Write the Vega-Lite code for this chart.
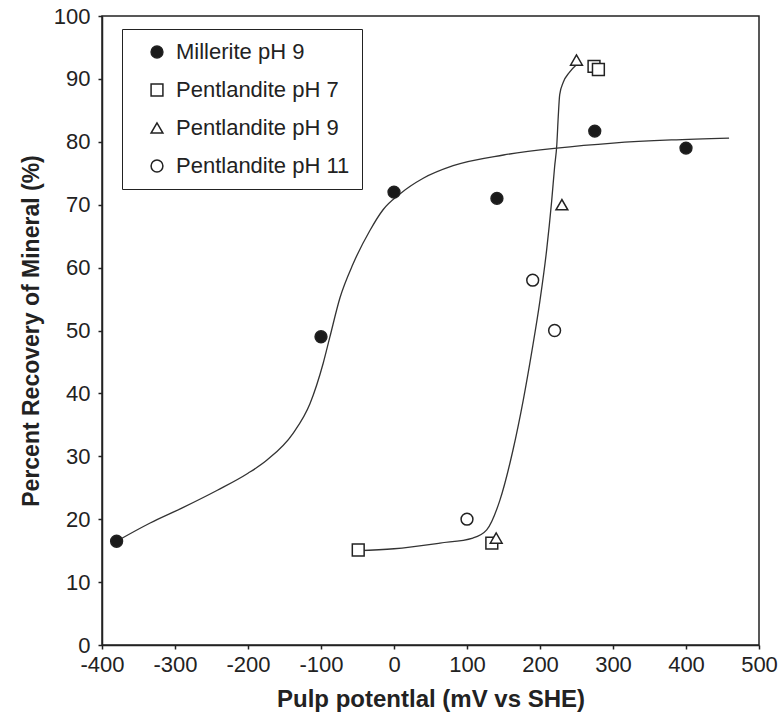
{
  "$schema": "https://vega.github.io/schema/vega-lite/v6.json",
  "width": 657,
  "height": 629,
  "autosize": "none",
  "padding": {"left": 102, "top": 16, "right": 23, "bottom": 76},
  "background": "white",
  "config": {
    "view": {"stroke": "#222", "strokeWidth": 1.5},
    "axis": {
      "grid": false,
      "labelFont": "Liberation Sans",
      "labelFontSize": 22,
      "labelColor": "#222",
      "labelExpr": "'' + datum.value",
      "labelFlush": false,
      "labelOverlap": false,
      "titleFont": "Liberation Sans",
      "titleFontSize": 23,
      "titleFontWeight": "bold",
      "titleColor": "#222",
      "tickColor": "#222",
      "domainColor": "#222",
      "domainWidth": 1.5,
      "tickWidth": 1.5,
      "tickSize": 4
    },
    "legend": {
      "labelFont": "Liberation Sans"
    }
  },
  "datasets": {
    "curves": [
      {"curve": "Millerite", "x": -380, "y": 16.5},
      {"curve": "Millerite", "x": -334, "y": 19.4},
      {"curve": "Millerite", "x": -290, "y": 21.8},
      {"curve": "Millerite", "x": -242, "y": 24.6},
      {"curve": "Millerite", "x": -200, "y": 27.3},
      {"curve": "Millerite", "x": -174, "y": 29.4},
      {"curve": "Millerite", "x": -138, "y": 33.7},
      {"curve": "Millerite", "x": -115, "y": 38.4},
      {"curve": "Millerite", "x": -97, "y": 44.8},
      {"curve": "Millerite", "x": -88, "y": 48.9},
      {"curve": "Millerite", "x": -74, "y": 55.2},
      {"curve": "Millerite", "x": -56, "y": 60.6},
      {"curve": "Millerite", "x": -33, "y": 65.9},
      {"curve": "Millerite", "x": -15, "y": 69.2},
      {"curve": "Millerite", "x": 8, "y": 71.7},
      {"curve": "Millerite", "x": 40, "y": 74.2},
      {"curve": "Millerite", "x": 81, "y": 76.2},
      {"curve": "Millerite", "x": 150, "y": 77.9},
      {"curve": "Millerite", "x": 223, "y": 79},
      {"curve": "Millerite", "x": 300, "y": 79.8},
      {"curve": "Millerite", "x": 380, "y": 80.3},
      {"curve": "Millerite", "x": 459, "y": 80.6},
      {"curve": "Pentlandite", "x": -50, "y": 15},
      {"curve": "Pentlandite", "x": 0, "y": 15.3},
      {"curve": "Pentlandite", "x": 63, "y": 16.2},
      {"curve": "Pentlandite", "x": 108, "y": 17},
      {"curve": "Pentlandite", "x": 127, "y": 18.3},
      {"curve": "Pentlandite", "x": 145, "y": 23},
      {"curve": "Pentlandite", "x": 163, "y": 31},
      {"curve": "Pentlandite", "x": 177, "y": 38.9},
      {"curve": "Pentlandite", "x": 189, "y": 46.8},
      {"curve": "Pentlandite", "x": 200, "y": 54.8},
      {"curve": "Pentlandite", "x": 209, "y": 62.7},
      {"curve": "Pentlandite", "x": 216, "y": 70.6},
      {"curve": "Pentlandite", "x": 220, "y": 76},
      {"curve": "Pentlandite", "x": 223, "y": 79.5},
      {"curve": "Pentlandite", "x": 225, "y": 84},
      {"curve": "Pentlandite", "x": 227, "y": 87.5},
      {"curve": "Pentlandite", "x": 232, "y": 89.5},
      {"curve": "Pentlandite", "x": 240, "y": 91},
      {"curve": "Pentlandite", "x": 252, "y": 92.5}
    ],
    "points": [
      {"series": "Millerite pH 9", "x": -380, "y": 16.5},
      {"series": "Millerite pH 9", "x": -100, "y": 49},
      {"series": "Millerite pH 9", "x": 0, "y": 72},
      {"series": "Millerite pH 9", "x": 141, "y": 71},
      {"series": "Millerite pH 9", "x": 275, "y": 81.7},
      {"series": "Millerite pH 9", "x": 400, "y": 79},
      {"series": "Pentlandite pH 7", "x": -49, "y": 15.1},
      {"series": "Pentlandite pH 7", "x": 134, "y": 16.2},
      {"series": "Pentlandite pH 7", "x": 274, "y": 92},
      {"series": "Pentlandite pH 7", "x": 280, "y": 91.5},
      {"series": "Pentlandite pH 9", "x": 250, "y": 93},
      {"series": "Pentlandite pH 9", "x": 230, "y": 70},
      {"series": "Pentlandite pH 9", "x": 140, "y": 17},
      {"series": "Pentlandite pH 11", "x": 100, "y": 20},
      {"series": "Pentlandite pH 11", "x": 190, "y": 58},
      {"series": "Pentlandite pH 11", "x": 220, "y": 50}
    ]
  },
  "layer": [
    {
      "data": {"name": "curves"},
      "mark": {"type": "line", "interpolate": "monotone", "color": "#333", "strokeWidth": 1.3},
      "encoding": {
        "x": {
          "field": "x", "type": "quantitative",
          "scale": {"domain": [-400, 500], "nice": false},
          "axis": {"values": [-400, -300, -200, -100, 0, 100, 200, 300, 400, 500], "title": "Pulp potentlal (mV vs SHE)", "labelPadding": 5, "titlePadding": 12, "titleFontSize": 24}
        },
        "y": {
          "field": "y", "type": "quantitative",
          "scale": {"domain": [0, 100], "nice": false},
          "axis": {"values": [0, 10, 20, 30, 40, 50, 60, 70, 80, 90, 100], "title": "Percent Recovery of Mineral (%)", "labelPadding": 8, "titlePadding": 10, "labelBaseline": "middle"}
        },
        "detail": {"field": "curve"}
      }
    },
    {
      "data": {"name": "points"},
      "mark": {"type": "point", "filled": true, "size": 140, "stroke": "#222", "strokeWidth": 1.5, "opacity": 1},
      "encoding": {
        "x": {"field": "x", "type": "quantitative"},
        "y": {"field": "y", "type": "quantitative"},
        "shape": {
          "field": "series", "type": "nominal",
          "scale": {"domain": ["Millerite pH 9", "Pentlandite pH 7", "Pentlandite pH 9", "Pentlandite pH 11"], "range": ["circle", "square", "triangle-up", "circle"]},
          "legend": {
            "title": null,
            "orient": "none",
            "legendX": 20,
            "legendY": 13,
            "strokeColor": "#222",
            "fillColor": "white",
            "padding": 12,
            "labelFontSize": 22,
            "labelColor": "#222",
            "labelLimit": 400,
            "symbolSize": 140,
            "symbolOffset": 12,
            "labelOffset": 8,
            "rowPadding": 16,
            "encode": {"symbols": {"update": {"stroke": {"value": "#222"}, "strokeWidth": {"value": 1.5}}}}
          }
        },
        "fill": {
          "field": "series", "type": "nominal",
          "scale": {"domain": ["Millerite pH 9", "Pentlandite pH 7", "Pentlandite pH 9", "Pentlandite pH 11"], "range": ["#1a1a1a", "white", "white", "white"]},
          "legend": {
            "title": null,
            "orient": "none",
            "legendX": 20,
            "legendY": 13,
            "strokeColor": "#222",
            "fillColor": "white",
            "padding": 12,
            "labelFontSize": 22,
            "labelColor": "#222",
            "labelLimit": 400,
            "symbolSize": 140,
            "symbolOffset": 12,
            "labelOffset": 8,
            "rowPadding": 16,
            "encode": {"symbols": {"update": {"stroke": {"value": "#222"}, "strokeWidth": {"value": 1.5}}}}
          }
        }
      }
    }
  ]
}
